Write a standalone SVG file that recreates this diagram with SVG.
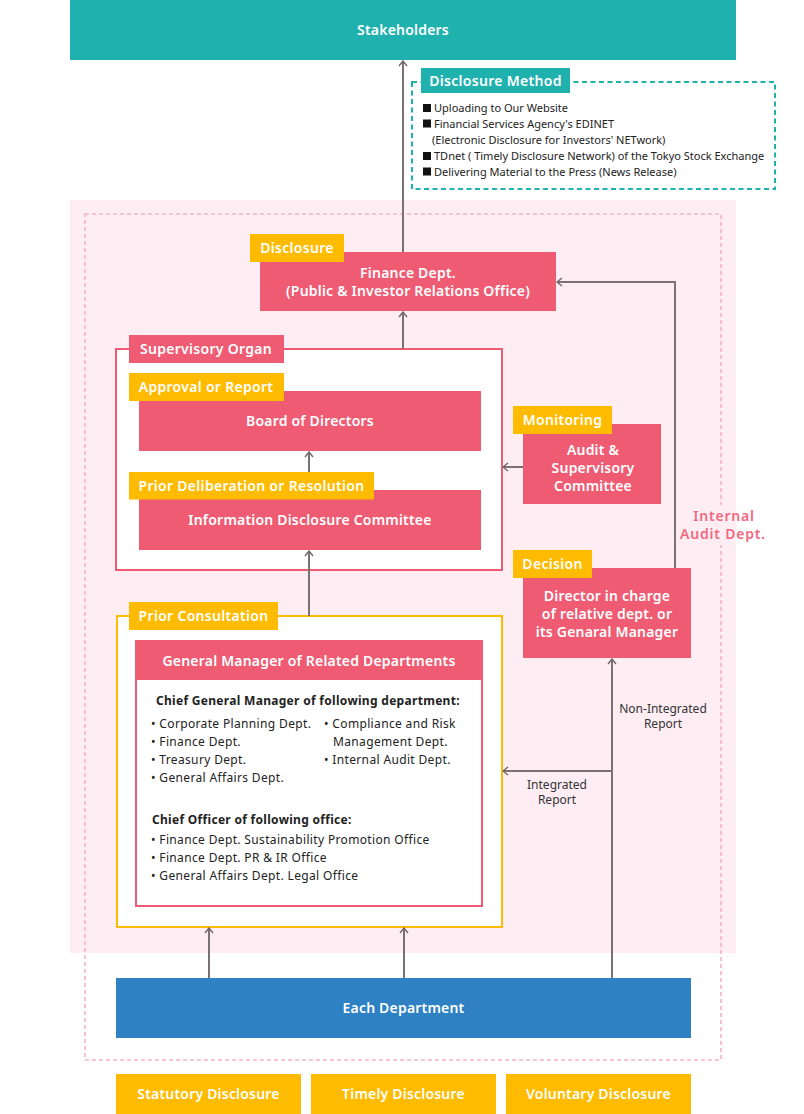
<svg xmlns="http://www.w3.org/2000/svg" width="804" height="1114" viewBox="0 0 804 1114">
<defs>
<marker id="ah" viewBox="0 0 10 10" refX="9" refY="5" markerWidth="10" markerHeight="10" markerUnits="userSpaceOnUse" orient="auto">
<path d="M4,1 L9,5 L4,9" fill="none" stroke="#6f6569" stroke-width="1.4"/>
</marker>
</defs>
<style>
text{font-family:"Noto Sans","Liberation Sans",sans-serif;}
.w{fill:#fff;font-weight:600;text-anchor:middle;font-size:14px;letter-spacing:0.2px}
.lab{fill:#fff;font-weight:600;text-anchor:middle;font-size:14px;letter-spacing:0.3px}
.pink{fill:#ef5b73}
.yel{fill:#ffbb00}
.s{font-size:11px;fill:#222;letter-spacing:0px}
.b{font-size:12px;fill:#222;letter-spacing:0.35px}
.bb{font-size:12px;fill:#222;font-weight:700;letter-spacing:0.3px}
.c{font-size:12px;fill:#333;text-anchor:middle}
.ln{stroke:#7a7175;stroke-width:2;fill:none}
</style>

<!-- backgrounds -->
<rect x="70" y="200" width="666" height="753" fill="#feeef3"/>
<rect x="85" y="214" width="636" height="846" fill="none" stroke="#f6b3c3" stroke-width="1.6" stroke-dasharray="4,3"/>
<rect x="716" y="505" width="10" height="40" fill="#feeef3"/>

<g id="stakeholders">
<rect x="70" y="0" width="666" height="60" fill="#1fb1ae"/>
<text x="403" y="35" class="w">Stakeholders</text>
</g>

<g id="disclosure-method">
<rect x="412" y="82" width="363" height="107" fill="none" stroke="#1fb1ae" stroke-width="2" stroke-dasharray="5,3.5"/>
<rect x="421" y="68" width="149" height="25" fill="#1fb1ae"/>
<text x="495.5" y="85.5" class="lab">Disclosure Method</text>
<rect x="423" y="104" width="8" height="8" fill="#111"/>
<text x="434" y="112" class="s">Uploading to Our Website</text>
<rect x="423" y="119.5" width="8" height="8" fill="#111"/>
<text x="434" y="127.5" class="s">Financial Services Agency's EDINET</text>
<text x="432" y="143.5" class="s">(Electronic Disclosure for Investors' NETwork)</text>
<rect x="423" y="152" width="8" height="8" fill="#111"/>
<text x="434" y="160" class="s">TDnet ( Timely Disclosure Network) of the Tokyo Stock Exchange</text>
<rect x="423" y="167.5" width="8" height="8" fill="#111"/>
<text x="434" y="175.5" class="s">Delivering Material to the Press (News Release)</text>
</g>

<g id="finance">
<rect x="260" y="252" width="296" height="59" class="pink"/>
<rect x="250" y="234" width="94" height="28" class="yel"/>
<text x="297" y="253" class="lab">Disclosure</text>
<text x="408" y="278" class="w">Finance Dept.</text>
<text x="408" y="296" class="w">(Public &amp; Investor Relations Office)</text>
</g>

<g id="supervisory-organ">
<rect x="116" y="349" width="386" height="221" fill="#fff" stroke="#ef5b73" stroke-width="2"/>
<rect x="129" y="335" width="155" height="28" class="pink"/>
<text x="206" y="354" class="lab">Supervisory Organ</text>
</g>

<g id="board">
<rect x="139" y="391" width="342" height="60" class="pink"/>
<rect x="129" y="373" width="155" height="28" class="yel"/>
<text x="206" y="392" class="lab">Approval or Report</text>
<text x="310" y="426" class="w">Board of Directors</text>
</g>

<g id="idc">
<rect x="139" y="490" width="342" height="60" class="pink"/>
<rect x="129" y="472" width="245" height="27.5" class="yel"/>
<text x="251.5" y="491" class="lab">Prior Deliberation or Resolution</text>
<text x="310" y="525" class="w">Information Disclosure Committee</text>
</g>

<g id="audit-committee">
<rect x="523" y="424" width="138" height="80" class="pink"/>
<rect x="513" y="406" width="99" height="28" class="yel"/>
<text x="562.5" y="425" class="lab">Monitoring</text>
<text x="593" y="455" class="w">Audit &amp;</text>
<text x="593" y="473" class="w">Supervisory</text>
<text x="593" y="491" class="w">Committee</text>
</g>

<g id="internal-audit">
<text x="724" y="521" font-size="14" font-weight="600" fill="#f0697f" text-anchor="middle" letter-spacing="0.8">Internal</text>
<text x="723" y="539" font-size="14" font-weight="600" fill="#f0697f" text-anchor="middle" letter-spacing="0.8">Audit Dept.</text>
</g>

<g id="director">
<rect x="523" y="568" width="168" height="90" class="pink"/>
<rect x="513" y="550" width="79" height="28" class="yel"/>
<text x="552.5" y="569" class="lab">Decision</text>
<text x="607" y="601" class="w">Director in charge</text>
<text x="607" y="619" class="w">of relative dept. or</text>
<text x="607" y="637" class="w">its Genaral Manager</text>
</g>

<g id="prior-consultation">
<rect x="117" y="616" width="385" height="311" fill="#fff" stroke="#ffbb00" stroke-width="2"/>
<rect x="129" y="602" width="149" height="28" class="yel"/>
<text x="203.5" y="621" class="lab">Prior Consultation</text>
</g>

<g id="gm">
<rect x="136" y="641" width="346" height="265" fill="#fff" stroke="#ef5b73" stroke-width="2"/>
<rect x="136" y="640" width="346" height="40" class="pink"/>
<text x="309" y="666" class="w">General Manager of Related Departments</text>
<text x="156" y="705" class="bb">Chief General Manager of following department:</text>
<text x="151" y="728" class="b">• Corporate Planning Dept.</text>
<text x="151" y="746" class="b">• Finance Dept.</text>
<text x="151" y="764" class="b">• Treasury Dept.</text>
<text x="151" y="782" class="b">• General Affairs Dept.</text>
<text x="324" y="728" class="b">• Compliance and Risk</text>
<text x="333" y="746" class="b">Management Dept.</text>
<text x="324" y="764" class="b">• Internal Audit Dept.</text>
<text x="152" y="823.5" class="bb">Chief Officer of following office:</text>
<text x="151" y="843.5" class="b">• Finance Dept. Sustainability Promotion Office</text>
<text x="151" y="861.5" class="b">• Finance Dept. PR &amp; IR Office</text>
<text x="151" y="879.5" class="b">• General Affairs Dept. Legal Office</text>
</g>

<g id="each-department">
<rect x="116" y="978" width="575" height="60" fill="#2e81c2"/>
<text x="403.5" y="1013" class="w">Each Department</text>
</g>

<g id="disclosure-types">
<rect x="116" y="1074" width="185" height="40" class="yel"/>
<text x="208.5" y="1099" class="w">Statutory Disclosure</text>
<rect x="311" y="1074" width="185" height="40" class="yel"/>
<text x="403.5" y="1099" class="w">Timely Disclosure</text>
<rect x="506" y="1074" width="185" height="40" class="yel"/>
<text x="598.5" y="1099" class="w">Voluntary Disclosure</text>
</g>

<g id="connectors">
<line x1="403" y1="252" x2="403" y2="61" class="ln" marker-end="url(#ah)"/>
<line x1="403" y1="349" x2="403" y2="312" class="ln" marker-end="url(#ah)"/>
<line x1="309" y1="472" x2="309" y2="452" class="ln" marker-end="url(#ah)"/>
<line x1="309" y1="616" x2="309" y2="551" class="ln" marker-end="url(#ah)"/>
<line x1="523" y1="467" x2="503" y2="467" class="ln" marker-end="url(#ah)"/>
<polyline points="675,568 675,282 557,282" class="ln" marker-end="url(#ah)"/>
<line x1="612" y1="978" x2="612" y2="659" class="ln" marker-end="url(#ah)"/>
<line x1="612" y1="771" x2="503" y2="771" class="ln" marker-end="url(#ah)"/>
<line x1="209" y1="978" x2="209" y2="928" class="ln" marker-end="url(#ah)"/>
<line x1="404" y1="978" x2="404" y2="928" class="ln" marker-end="url(#ah)"/>
<text x="663" y="713" class="c">Non-Integrated</text>
<text x="663" y="728" class="c">Report</text>
<text x="557" y="789" class="c">Integrated</text>
<text x="557" y="804" class="c">Report</text>
</g>
</svg>
